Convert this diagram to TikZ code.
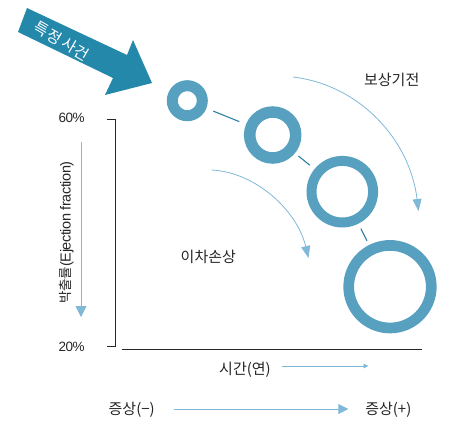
\documentclass[tikz,border=0pt]{standalone}
\usepackage{fontspec}
\setmainfont{Noto Sans CJK KR}
\newfontfamily\lat{Liberation Sans}
\usetikzlibrary{arrows.meta}
\definecolor{bigarrow}{HTML}{2388AA}
\definecolor{ringc}{HTML}{58A0C0}
\definecolor{linkc}{HTML}{2E80A2}
\definecolor{lightc}{HTML}{80B8D8}
\tikzset{
  ring/.style={circle, draw=ringc, outer sep=0pt, inner sep=0pt},
  link/.style={draw=linkc, line width=1.1pt},
  curvearrow/.style={draw=lightc, line width=0.8pt, -{Triangle[length=12pt,width=9pt]}},
  lbl/.style={inner sep=0pt, font=\fontsize{15}{17}\selectfont, text=black!85},
  pct/.style={inner sep=0pt, font=\lat\fontsize{13.5}{15}\selectfont\addfontfeature{LetterSpace=-4}, text=black!85},
  axisline/.style={draw=black!85, line width=0.9pt}
}
\begin{document}
\begin{tikzpicture}[x=1pt,y=-1pt]
\useasboundingbox (0,0) rectangle (464,434);
% big arrow
\fill[bigarrow] (27,8) -- (127,55) -- (133,40) -- (152,83) -- (105,95) -- (113,78) -- (18,32) -- cycle;
\node[inner sep=0pt, text=white, rotate=-30, font=\fontsize{15.5}{17}\selectfont] (event) at (62,41) {특정 사건};
% rings
\node[ring, line width=11pt, minimum size=30pt] (r1) at (187.3,100.7) {};
\node[ring, line width=11.5pt, minimum size=46pt] (r2) at (272.7,135) {};
\node[ring, line width=10pt, minimum size=61.6pt] (r3) at (342.3,191.7) {};
\node[ring, line width=10.7pt, minimum size=82.6pt] (r4) at (390,286.7) {};
\draw[link, shorten <=13pt, shorten >=13pt] (r1) -- (r2);
\draw[link, shorten <=10.3pt, shorten >=11pt] (r2) -- (r3);
\draw[link, shorten <=10.5pt, shorten >=10pt] (r3) -- (r4);
% curved arrows
\coordinate (a1) at (293,77);
\coordinate (a2) at (418.5,211);
\draw[curvearrow] (a1) .. controls (360,85) and (410,140) .. (a2);
\coordinate (b1) at (211.7,170);
\coordinate (b2) at (308.5,258);
\draw[curvearrow] (b1) .. controls (255,172) and (297,210) .. (b2);
\node[lbl] (comp) at (391.7,80) {보상기전};
\node[lbl] (sec) at (208.3,257) {이차손상};
% axes
\coordinate (yt) at (106.7,119.3);
\coordinate (ytc) at (115.7,119.3);
\coordinate (ybc) at (115.7,346.7);
\coordinate (yb) at (106.7,346.7);
\draw[axisline] (yt) -- (ytc) -- (ybc) -- (yb);
\coordinate (x0) at (121.7,349);
\coordinate (x1) at (421.7,349);
\draw[axisline] (x0) -- (x1);
\node[pct] (p60) at (71.7,118.3) {60\%};
\node[pct] (p20) at (71.7,347.3) {20\%};
\node[inner sep=0pt, rotate=90, text=black!85] (ef) at (66.5,232.5) {\fontsize{13.5}{15}\selectfont 박출률\lat\fontsize{14.5}{15}\selectfont\addfontfeature{LetterSpace=-3}(Ejection fraction)};
\coordinate (v0) at (81,141.7);
\coordinate (v1) at (81,317);
\draw[draw=lightc, line width=0.8pt, -{Triangle[length=11pt,width=11pt]}] (v0) -- (v1);
% time
\node[lbl] (time) at (245,370) {시간(연)};
\coordinate (t0) at (281.7,366);
\coordinate (t1) at (368.5,366);
\draw[draw=lightc, line width=0.9pt, -{Triangle[length=5pt,width=4.5pt]}] (t0) -- (t1);
% symptoms
\node[lbl] (sm) at (131.7,410) {증상(−)};
\node[lbl] (sp) at (388.3,410) {증상(+)};
\draw[draw=lightc, line width=0.9pt, -{Triangle[length=10pt,width=10pt]}] (174.3,409) -- (348.3,409);
\end{tikzpicture}
\end{document}
